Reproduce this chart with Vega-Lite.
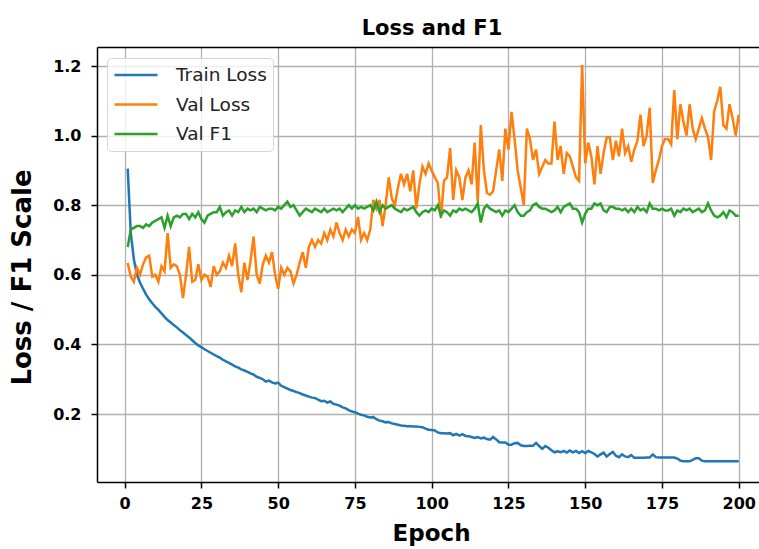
{
"$schema": "https://vega.github.io/schema/vega-lite/v6.json",
"width": 662, "height": 435,
"autosize": {"type": "none"},
"padding": {"left": 97, "top": 47, "right": 0, "bottom": 67},
"background": "white",
"config": {"view": {"stroke": null}, "font": "DejaVu Sans"},
"title": {"text": "Loss and F1", "font": "DejaVu Sans", "fontSize": 21, "fontWeight": "bold", "color": "#000", "anchor": "middle", "dx": 4, "baseline": "alphabetic", "offset": -9},
"data": {"values": [
{"Epoch":1,"Train Loss":0.905,"Val Loss":0.634,"Val F1":0.68},
{"Epoch":2,"Train Loss":0.72,"Val Loss":0.595,"Val F1":0.73},
{"Epoch":3,"Train Loss":0.645,"Val Loss":0.58,"Val F1":0.735},
{"Epoch":4,"Train Loss":0.6,"Val Loss":0.62,"Val F1":0.74},
{"Epoch":5,"Train Loss":0.578,"Val Loss":0.6,"Val F1":0.74},
{"Epoch":6,"Train Loss":0.56,"Val Loss":0.63,"Val F1":0.735},
{"Epoch":7,"Train Loss":0.543,"Val Loss":0.65,"Val F1":0.745},
{"Epoch":8,"Train Loss":0.53,"Val Loss":0.655,"Val F1":0.74},
{"Epoch":9,"Train Loss":0.518,"Val Loss":0.595,"Val F1":0.75},
{"Epoch":10,"Train Loss":0.508,"Val Loss":0.6,"Val F1":0.755},
{"Epoch":11,"Train Loss":0.499,"Val Loss":0.58,"Val F1":0.76},
{"Epoch":12,"Train Loss":0.489,"Val Loss":0.625,"Val F1":0.765},
{"Epoch":13,"Train Loss":0.479,"Val Loss":0.61,"Val F1":0.735},
{"Epoch":14,"Train Loss":0.47,"Val Loss":0.72,"Val F1":0.77},
{"Epoch":15,"Train Loss":0.463,"Val Loss":0.62,"Val F1":0.74},
{"Epoch":16,"Train Loss":0.456,"Val Loss":0.63,"Val F1":0.765},
{"Epoch":17,"Train Loss":0.449,"Val Loss":0.625,"Val F1":0.77},
{"Epoch":18,"Train Loss":0.441,"Val Loss":0.6,"Val F1":0.765},
{"Epoch":19,"Train Loss":0.434,"Val Loss":0.533,"Val F1":0.775},
{"Epoch":20,"Train Loss":0.427,"Val Loss":0.6,"Val F1":0.775},
{"Epoch":21,"Train Loss":0.42,"Val Loss":0.68,"Val F1":0.76},
{"Epoch":22,"Train Loss":0.412,"Val Loss":0.58,"Val F1":0.775},
{"Epoch":23,"Train Loss":0.404,"Val Loss":0.585,"Val F1":0.765},
{"Epoch":24,"Train Loss":0.397,"Val Loss":0.63,"Val F1":0.78},
{"Epoch":25,"Train Loss":0.392,"Val Loss":0.585,"Val F1":0.76},
{"Epoch":26,"Train Loss":0.386,"Val Loss":0.6,"Val F1":0.75},
{"Epoch":27,"Train Loss":0.381,"Val Loss":0.595,"Val F1":0.77},
{"Epoch":28,"Train Loss":0.376,"Val Loss":0.565,"Val F1":0.775},
{"Epoch":29,"Train Loss":0.371,"Val Loss":0.625,"Val F1":0.78},
{"Epoch":30,"Train Loss":0.366,"Val Loss":0.6,"Val F1":0.78},
{"Epoch":31,"Train Loss":0.362,"Val Loss":0.61,"Val F1":0.795},
{"Epoch":32,"Train Loss":0.356,"Val Loss":0.635,"Val F1":0.77},
{"Epoch":33,"Train Loss":0.351,"Val Loss":0.62,"Val F1":0.78},
{"Epoch":34,"Train Loss":0.347,"Val Loss":0.655,"Val F1":0.785},
{"Epoch":35,"Train Loss":0.342,"Val Loss":0.625,"Val F1":0.77},
{"Epoch":36,"Train Loss":0.337,"Val Loss":0.69,"Val F1":0.785},
{"Epoch":37,"Train Loss":0.333,"Val Loss":0.6,"Val F1":0.78},
{"Epoch":38,"Train Loss":0.328,"Val Loss":0.55,"Val F1":0.795},
{"Epoch":39,"Train Loss":0.325,"Val Loss":0.635,"Val F1":0.78},
{"Epoch":40,"Train Loss":0.321,"Val Loss":0.585,"Val F1":0.79},
{"Epoch":41,"Train Loss":0.317,"Val Loss":0.64,"Val F1":0.785},
{"Epoch":42,"Train Loss":0.313,"Val Loss":0.71,"Val F1":0.79},
{"Epoch":43,"Train Loss":0.307,"Val Loss":0.6,"Val F1":0.78},
{"Epoch":44,"Train Loss":0.304,"Val Loss":0.575,"Val F1":0.795},
{"Epoch":45,"Train Loss":0.3,"Val Loss":0.63,"Val F1":0.79},
{"Epoch":46,"Train Loss":0.293,"Val Loss":0.655,"Val F1":0.785},
{"Epoch":47,"Train Loss":0.296,"Val Loss":0.635,"Val F1":0.79},
{"Epoch":48,"Train Loss":0.291,"Val Loss":0.665,"Val F1":0.79},
{"Epoch":49,"Train Loss":0.288,"Val Loss":0.6,"Val F1":0.785},
{"Epoch":50,"Train Loss":0.29,"Val Loss":0.56,"Val F1":0.795},
{"Epoch":51,"Train Loss":0.281,"Val Loss":0.62,"Val F1":0.79},
{"Epoch":52,"Train Loss":0.277,"Val Loss":0.6,"Val F1":0.8},
{"Epoch":53,"Train Loss":0.273,"Val Loss":0.62,"Val F1":0.81},
{"Epoch":54,"Train Loss":0.269,"Val Loss":0.61,"Val F1":0.795},
{"Epoch":55,"Train Loss":0.266,"Val Loss":0.575,"Val F1":0.8},
{"Epoch":56,"Train Loss":0.263,"Val Loss":0.6,"Val F1":0.785},
{"Epoch":57,"Train Loss":0.26,"Val Loss":0.635,"Val F1":0.77},
{"Epoch":58,"Train Loss":0.256,"Val Loss":0.665,"Val F1":0.78},
{"Epoch":59,"Train Loss":0.253,"Val Loss":0.62,"Val F1":0.79},
{"Epoch":60,"Train Loss":0.25,"Val Loss":0.68,"Val F1":0.785},
{"Epoch":61,"Train Loss":0.247,"Val Loss":0.7,"Val F1":0.78},
{"Epoch":62,"Train Loss":0.246,"Val Loss":0.68,"Val F1":0.79},
{"Epoch":63,"Train Loss":0.241,"Val Loss":0.7,"Val F1":0.785},
{"Epoch":64,"Train Loss":0.237,"Val Loss":0.69,"Val F1":0.78},
{"Epoch":65,"Train Loss":0.238,"Val Loss":0.72,"Val F1":0.79},
{"Epoch":66,"Train Loss":0.233,"Val Loss":0.7,"Val F1":0.78},
{"Epoch":67,"Train Loss":0.236,"Val Loss":0.73,"Val F1":0.785},
{"Epoch":68,"Train Loss":0.229,"Val Loss":0.71,"Val F1":0.79},
{"Epoch":69,"Train Loss":0.227,"Val Loss":0.75,"Val F1":0.785},
{"Epoch":70,"Train Loss":0.224,"Val Loss":0.72,"Val F1":0.79},
{"Epoch":71,"Train Loss":0.219,"Val Loss":0.7,"Val F1":0.78},
{"Epoch":72,"Train Loss":0.216,"Val Loss":0.73,"Val F1":0.79},
{"Epoch":73,"Train Loss":0.211,"Val Loss":0.71,"Val F1":0.8},
{"Epoch":74,"Train Loss":0.207,"Val Loss":0.73,"Val F1":0.79},
{"Epoch":75,"Train Loss":0.205,"Val Loss":0.72,"Val F1":0.8},
{"Epoch":76,"Train Loss":0.201,"Val Loss":0.766,"Val F1":0.79},
{"Epoch":77,"Train Loss":0.198,"Val Loss":0.7,"Val F1":0.795},
{"Epoch":78,"Train Loss":0.196,"Val Loss":0.72,"Val F1":0.79},
{"Epoch":79,"Train Loss":0.192,"Val Loss":0.7,"Val F1":0.795},
{"Epoch":80,"Train Loss":0.19,"Val Loss":0.73,"Val F1":0.8},
{"Epoch":81,"Train Loss":0.191,"Val Loss":0.815,"Val F1":0.785},
{"Epoch":82,"Train Loss":0.185,"Val Loss":0.79,"Val F1":0.81},
{"Epoch":83,"Train Loss":0.181,"Val Loss":0.815,"Val F1":0.78},
{"Epoch":84,"Train Loss":0.179,"Val Loss":0.74,"Val F1":0.8},
{"Epoch":85,"Train Loss":0.176,"Val Loss":0.8,"Val F1":0.79},
{"Epoch":86,"Train Loss":0.177,"Val Loss":0.88,"Val F1":0.795},
{"Epoch":87,"Train Loss":0.173,"Val Loss":0.82,"Val F1":0.8},
{"Epoch":88,"Train Loss":0.171,"Val Loss":0.8,"Val F1":0.79},
{"Epoch":89,"Train Loss":0.169,"Val Loss":0.85,"Val F1":0.785},
{"Epoch":90,"Train Loss":0.167,"Val Loss":0.89,"Val F1":0.78},
{"Epoch":91,"Train Loss":0.166,"Val Loss":0.86,"Val F1":0.79},
{"Epoch":92,"Train Loss":0.165,"Val Loss":0.89,"Val F1":0.785},
{"Epoch":93,"Train Loss":0.165,"Val Loss":0.84,"Val F1":0.79},
{"Epoch":94,"Train Loss":0.164,"Val Loss":0.9,"Val F1":0.795},
{"Epoch":95,"Train Loss":0.164,"Val Loss":0.79,"Val F1":0.78},
{"Epoch":96,"Train Loss":0.163,"Val Loss":0.86,"Val F1":0.77},
{"Epoch":97,"Train Loss":0.162,"Val Loss":0.911,"Val F1":0.78},
{"Epoch":98,"Train Loss":0.158,"Val Loss":0.89,"Val F1":0.785},
{"Epoch":99,"Train Loss":0.155,"Val Loss":0.92,"Val F1":0.78},
{"Epoch":100,"Train Loss":0.154,"Val Loss":0.9,"Val F1":0.79},
{"Epoch":101,"Train Loss":0.153,"Val Loss":0.88,"Val F1":0.785},
{"Epoch":102,"Train Loss":0.147,"Val Loss":0.864,"Val F1":0.8},
{"Epoch":103,"Train Loss":0.145,"Val Loss":0.763,"Val F1":0.77},
{"Epoch":104,"Train Loss":0.145,"Val Loss":0.87,"Val F1":0.785},
{"Epoch":105,"Train Loss":0.144,"Val Loss":0.88,"Val F1":0.78},
{"Epoch":106,"Train Loss":0.145,"Val Loss":0.964,"Val F1":0.77},
{"Epoch":107,"Train Loss":0.139,"Val Loss":0.815,"Val F1":0.785},
{"Epoch":108,"Train Loss":0.143,"Val Loss":0.9,"Val F1":0.78},
{"Epoch":109,"Train Loss":0.138,"Val Loss":0.88,"Val F1":0.79},
{"Epoch":110,"Train Loss":0.142,"Val Loss":0.815,"Val F1":0.785},
{"Epoch":111,"Train Loss":0.137,"Val Loss":0.88,"Val F1":0.79},
{"Epoch":112,"Train Loss":0.136,"Val Loss":0.9,"Val F1":0.785},
{"Epoch":113,"Train Loss":0.134,"Val Loss":0.86,"Val F1":0.78},
{"Epoch":114,"Train Loss":0.131,"Val Loss":0.98,"Val F1":0.79},
{"Epoch":115,"Train Loss":0.134,"Val Loss":0.81,"Val F1":0.805},
{"Epoch":116,"Train Loss":0.13,"Val Loss":1.03,"Val F1":0.75},
{"Epoch":117,"Train Loss":0.132,"Val Loss":0.9,"Val F1":0.79},
{"Epoch":118,"Train Loss":0.128,"Val Loss":0.835,"Val F1":0.8},
{"Epoch":119,"Train Loss":0.126,"Val Loss":0.83,"Val F1":0.79},
{"Epoch":120,"Train Loss":0.134,"Val Loss":0.84,"Val F1":0.785},
{"Epoch":121,"Train Loss":0.127,"Val Loss":0.9,"Val F1":0.78},
{"Epoch":122,"Train Loss":0.119,"Val Loss":0.96,"Val F1":0.785},
{"Epoch":123,"Train Loss":0.118,"Val Loss":0.87,"Val F1":0.77},
{"Epoch":124,"Train Loss":0.118,"Val Loss":1.02,"Val F1":0.785},
{"Epoch":125,"Train Loss":0.112,"Val Loss":0.96,"Val F1":0.78},
{"Epoch":126,"Train Loss":0.112,"Val Loss":1.068,"Val F1":0.79},
{"Epoch":127,"Train Loss":0.116,"Val Loss":0.99,"Val F1":0.8},
{"Epoch":128,"Train Loss":0.117,"Val Loss":0.9,"Val F1":0.78},
{"Epoch":129,"Train Loss":0.11,"Val Loss":0.85,"Val F1":0.77},
{"Epoch":130,"Train Loss":0.108,"Val Loss":0.8,"Val F1":0.77},
{"Epoch":131,"Train Loss":0.108,"Val Loss":1.02,"Val F1":0.78},
{"Epoch":132,"Train Loss":0.109,"Val Loss":0.99,"Val F1":0.785},
{"Epoch":133,"Train Loss":0.109,"Val Loss":0.93,"Val F1":0.8},
{"Epoch":134,"Train Loss":0.117,"Val Loss":0.96,"Val F1":0.805},
{"Epoch":135,"Train Loss":0.108,"Val Loss":0.89,"Val F1":0.795},
{"Epoch":136,"Train Loss":0.1,"Val Loss":0.91,"Val F1":0.79},
{"Epoch":137,"Train Loss":0.108,"Val Loss":0.93,"Val F1":0.79},
{"Epoch":138,"Train Loss":0.103,"Val Loss":0.92,"Val F1":0.785},
{"Epoch":139,"Train Loss":0.096,"Val Loss":0.92,"Val F1":0.78},
{"Epoch":140,"Train Loss":0.09,"Val Loss":1.04,"Val F1":0.785},
{"Epoch":141,"Train Loss":0.093,"Val Loss":0.93,"Val F1":0.795},
{"Epoch":142,"Train Loss":0.09,"Val Loss":0.97,"Val F1":0.78},
{"Epoch":143,"Train Loss":0.094,"Val Loss":0.89,"Val F1":0.795},
{"Epoch":144,"Train Loss":0.089,"Val Loss":0.95,"Val F1":0.8},
{"Epoch":145,"Train Loss":0.095,"Val Loss":0.94,"Val F1":0.805},
{"Epoch":146,"Train Loss":0.09,"Val Loss":0.91,"Val F1":0.79},
{"Epoch":147,"Train Loss":0.094,"Val Loss":0.88,"Val F1":0.79},
{"Epoch":148,"Train Loss":0.088,"Val Loss":0.87,"Val F1":0.78},
{"Epoch":149,"Train Loss":0.093,"Val Loss":1.203,"Val F1":0.75},
{"Epoch":150,"Train Loss":0.088,"Val Loss":0.92,"Val F1":0.775},
{"Epoch":151,"Train Loss":0.094,"Val Loss":0.98,"Val F1":0.79},
{"Epoch":152,"Train Loss":0.09,"Val Loss":0.94,"Val F1":0.79},
{"Epoch":153,"Train Loss":0.085,"Val Loss":0.86,"Val F1":0.805},
{"Epoch":154,"Train Loss":0.078,"Val Loss":0.97,"Val F1":0.8},
{"Epoch":155,"Train Loss":0.084,"Val Loss":0.89,"Val F1":0.805},
{"Epoch":156,"Train Loss":0.089,"Val Loss":0.95,"Val F1":0.785},
{"Epoch":157,"Train Loss":0.078,"Val Loss":0.995,"Val F1":0.78},
{"Epoch":158,"Train Loss":0.085,"Val Loss":0.995,"Val F1":0.795},
{"Epoch":159,"Train Loss":0.091,"Val Loss":0.93,"Val F1":0.795},
{"Epoch":160,"Train Loss":0.08,"Val Loss":0.985,"Val F1":0.79},
{"Epoch":161,"Train Loss":0.076,"Val Loss":0.94,"Val F1":0.79},
{"Epoch":162,"Train Loss":0.084,"Val Loss":1.02,"Val F1":0.785},
{"Epoch":163,"Train Loss":0.078,"Val Loss":0.95,"Val F1":0.79},
{"Epoch":164,"Train Loss":0.076,"Val Loss":0.97,"Val F1":0.78},
{"Epoch":165,"Train Loss":0.082,"Val Loss":0.925,"Val F1":0.79},
{"Epoch":166,"Train Loss":0.074,"Val Loss":0.96,"Val F1":0.78},
{"Epoch":167,"Train Loss":0.074,"Val Loss":0.985,"Val F1":0.795},
{"Epoch":168,"Train Loss":0.074,"Val Loss":1.06,"Val F1":0.785},
{"Epoch":169,"Train Loss":0.074,"Val Loss":0.97,"Val F1":0.79},
{"Epoch":170,"Train Loss":0.075,"Val Loss":1.0,"Val F1":0.78},
{"Epoch":171,"Train Loss":0.075,"Val Loss":1.08,"Val F1":0.805},
{"Epoch":172,"Train Loss":0.084,"Val Loss":0.864,"Val F1":0.79},
{"Epoch":173,"Train Loss":0.076,"Val Loss":0.9,"Val F1":0.79},
{"Epoch":174,"Train Loss":0.075,"Val Loss":0.93,"Val F1":0.785},
{"Epoch":175,"Train Loss":0.075,"Val Loss":0.97,"Val F1":0.79},
{"Epoch":176,"Train Loss":0.075,"Val Loss":0.99,"Val F1":0.785},
{"Epoch":177,"Train Loss":0.075,"Val Loss":0.99,"Val F1":0.785},
{"Epoch":178,"Train Loss":0.075,"Val Loss":0.975,"Val F1":0.79},
{"Epoch":179,"Train Loss":0.075,"Val Loss":1.131,"Val F1":0.77},
{"Epoch":180,"Train Loss":0.072,"Val Loss":0.99,"Val F1":0.785},
{"Epoch":181,"Train Loss":0.066,"Val Loss":1.09,"Val F1":0.78},
{"Epoch":182,"Train Loss":0.064,"Val Loss":1.04,"Val F1":0.79},
{"Epoch":183,"Train Loss":0.064,"Val Loss":1.0,"Val F1":0.785},
{"Epoch":184,"Train Loss":0.064,"Val Loss":1.09,"Val F1":0.79},
{"Epoch":185,"Train Loss":0.068,"Val Loss":1.02,"Val F1":0.78},
{"Epoch":186,"Train Loss":0.073,"Val Loss":0.99,"Val F1":0.785},
{"Epoch":187,"Train Loss":0.073,"Val Loss":1.02,"Val F1":0.79},
{"Epoch":188,"Train Loss":0.066,"Val Loss":1.05,"Val F1":0.78},
{"Epoch":189,"Train Loss":0.064,"Val Loss":1.02,"Val F1":0.785},
{"Epoch":190,"Train Loss":0.064,"Val Loss":0.995,"Val F1":0.805},
{"Epoch":191,"Train Loss":0.064,"Val Loss":0.93,"Val F1":0.785},
{"Epoch":192,"Train Loss":0.064,"Val Loss":1.07,"Val F1":0.77},
{"Epoch":193,"Train Loss":0.064,"Val Loss":1.1,"Val F1":0.765},
{"Epoch":194,"Train Loss":0.064,"Val Loss":1.14,"Val F1":0.77},
{"Epoch":195,"Train Loss":0.064,"Val Loss":1.03,"Val F1":0.78},
{"Epoch":196,"Train Loss":0.064,"Val Loss":1.02,"Val F1":0.765},
{"Epoch":197,"Train Loss":0.064,"Val Loss":1.09,"Val F1":0.785},
{"Epoch":198,"Train Loss":0.064,"Val Loss":1.05,"Val F1":0.78},
{"Epoch":199,"Train Loss":0.064,"Val Loss":1.0,"Val F1":0.77},
{"Epoch":200,"Train Loss":0.064,"Val Loss":1.06,"Val F1":0.77}
]},
"transform": [{"fold": ["Train Loss", "Val Loss", "Val F1"], "as": ["Series", "Value"]}],
"layer": [
{
"mark": {"type": "line", "strokeWidth": 2.5, "clip": true},
"encoding": {
"x": {"field": "Epoch", "type": "quantitative",
"scale": {"domain": [-9, 206.6], "nice": false, "zero": false},
"axis": {"values": [0,25,50,75,100,125,150,175,200], "format": "d",
"labelFont": "DejaVu Sans", "labelFontSize": 16, "labelFontWeight": "bold", "labelColor": "#000", "labelPadding": 7,
"tickSize": 6, "tickColor": "#000", "tickWidth": 1.5,
"domainColor": "#000", "domainWidth": 1.5,
"grid": true, "gridColor": "#b0b0b0", "gridWidth": 1.3,
"title": "Epoch", "titleFont": "DejaVu Sans", "titleFontSize": 23, "titleFontWeight": "bold", "titleColor": "#000",
"titleBaseline": "alphabetic", "titleX": 334, "titleY": 58, "titleAlign": "center"}},
"y": {"field": "Value", "type": "quantitative",
"scale": {"domain": [0.0046, 1.2546], "nice": false, "zero": false},
"axis": {"values": [0.2,0.4,0.6,0.8,1.0,1.2], "format": ".1f",
"labelFont": "DejaVu Sans", "labelFontSize": 16, "labelFontWeight": "bold", "labelColor": "#000", "labelPadding": 10,
"tickSize": 6, "tickColor": "#000", "tickWidth": 1.5,
"domainColor": "#000", "domainWidth": 1.5,
"grid": true, "gridColor": "#b0b0b0", "gridWidth": 1.3,
"title": "Loss / F1 Scale", "titleFont": "DejaVu Sans", "titleFontSize": 26, "titleFontWeight": "bold", "titleColor": "#000",
"titleBaseline": "alphabetic", "titleX": -67, "titleY": 230, "titleAlign": "center", "titleAngle": 270}},
"color": {"field": "Series", "type": "nominal",
"scale": {"domain": ["Train Loss", "Val Loss", "Val F1"], "range": ["#1f77b4", "#ff7f0e", "#2ca02c"]},
"legend": {"orient": "none", "legendX": 10, "legendY": 11, "title": null,
"symbolType": "stroke", "symbolSize": 1849, "symbolStrokeWidth": 2.5,
"labelFont": "DejaVu Sans", "labelFontSize": 18.5, "labelColor": "#222", "labelOffset": 17,
"padding": 6, "rowPadding": 7.5, "clipHeight": 22,
"strokeColor": "#d5d5d5", "fillColor": "rgba(255,255,255,0.8)", "cornerRadius": 4}}
}
},
{
"mark": {"type": "line", "opacity": 0},
"encoding": {
"x": {"field": "Epoch", "type": "quantitative",
"axis": {"orient": "top", "domain": true, "domainColor": "#000", "domainWidth": 1.5, "ticks": false, "labels": false, "grid": false, "title": null}}
}
}
],
"resolve": {"axis": {"x": "independent"}}
}
